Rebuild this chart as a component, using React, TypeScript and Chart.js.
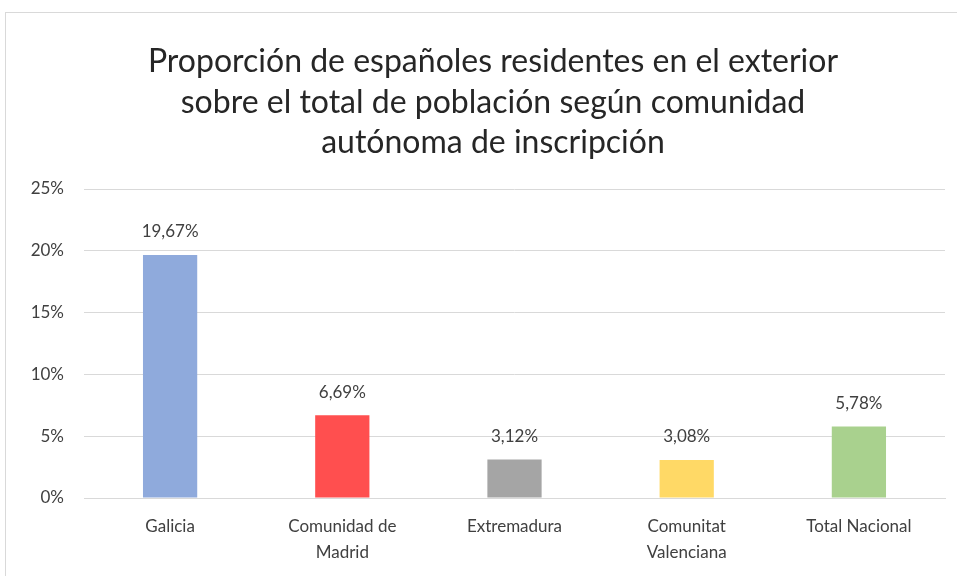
import React, { useEffect, useRef } from "react";
import { Chart, registerables } from "chart.js";

Chart.register(...registerables);

const categories: (string | string[])[] = [
  "Galicia",
  ["Comunidad de", "Madrid"],
  "Extremadura",
  ["Comunitat", "Valenciana"],
  "Total Nacional",
];
const values = [19.67, 6.69, 3.12, 3.08, 5.78];
const valueLabels = ["19,67%", "6,69%", "3,12%", "3,08%", "5,78%"];
const barColors = ["#8faadc", "#ff4f4f", "#a5a5a5", "#ffd966", "#a9d18e"];
const titleLines = [
  "Proporción de españoles residentes en el exterior",
  "sobre el total de población según comunidad",
  "autónoma de inscripción",
];

const FONT = "Lato, 'Open Sans', sans-serif";

const dataLabelPlugin = {
  id: "dataLabels",
  afterDatasetsDraw(chart: any) {
    const ctx = chart.ctx;
    const meta = chart.getDatasetMeta(0);
    ctx.save();
    ctx.font = `17px ${FONT}`;
    ctx.fillStyle = "#404040";
    ctx.textAlign = "center";
    ctx.textBaseline = "middle";
    meta.data.forEach((el: any, i: number) => {
      ctx.fillText(valueLabels[i], el.x, el.y - 23);
    });
    ctx.restore();
  },
};

const titlePlugin = {
  id: "customTitle",
  afterDraw(chart: any) {
    const ctx = chart.ctx;
    ctx.save();
    ctx.font = `32px ${FONT}`;
    ctx.fillStyle = "#262626";
    ctx.textAlign = "center";
    ctx.textBaseline = "middle";
    const cx = 493;
    const top = 62;
    const step = 40.5;
    titleLines.forEach((line, i) => {
      ctx.fillText(line, cx, top + i * step);
    });
    ctx.restore();
  },
};

export default function App() {
  const ref = useRef<HTMLCanvasElement>(null);
  useEffect(() => {
    if (!ref.current) return;
    const chart = new Chart(ref.current, {
      type: "bar",
      data: {
        labels: categories,
        datasets: [
          {
            data: values,
            backgroundColor: barColors,
            barPercentage: 0.315,
            categoryPercentage: 1,
          },
        ],
      },
      options: {
        animation: false,
        responsive: false,
        maintainAspectRatio: false,
        layout: { padding: { left: 10, right: 12, top: 189, bottom: 0 } },
        plugins: {
          legend: { display: false },
          tooltip: { enabled: false },
          title: { display: false },
        },
        scales: {
          x: {
            grid: { display: false, drawTicks: false },
            border: { color: "#d9d9d9", width: 1 },
            ticks: {
              color: "#404040",
              font: { family: FONT, size: 17, lineHeight: 1.53 },
              maxRotation: 0,
              padding: 16,
            },
            afterFit: (s: any) => {
              s.height = 78;
            },
          },
          y: {
            min: 0,
            max: 25,
            ticks: {
              stepSize: 5,
              color: "#404040",
              font: { family: FONT, size: 17 },
              padding: 20,
              callback: (v: any) => `${v}%`,
            },
            grid: { color: "#d9d9d9", drawTicks: false },
            border: { display: false },
            afterFit: (s: any) => {
              s.width = 74;
            },
          },
        },
      },
      plugins: [dataLabelPlugin, titlePlugin],
    });
    return () => chart.destroy();
  }, []);
  return (
    <div
      style={{
        position: "fixed",
        left: 0,
        top: 0,
        width: 957,
        height: 576,
        background: "#fff",
      }}
    >
      <div
        style={{
          position: "absolute",
          left: 5,
          top: 12,
          width: 1000,
          height: 700,
          border: "1px solid #d9d9d9",
        }}
      />
      <canvas
        ref={ref}
        width={957}
        height={576}
        style={{ position: "absolute", left: 0, top: 0 }}
      />
    </div>
  );
}
